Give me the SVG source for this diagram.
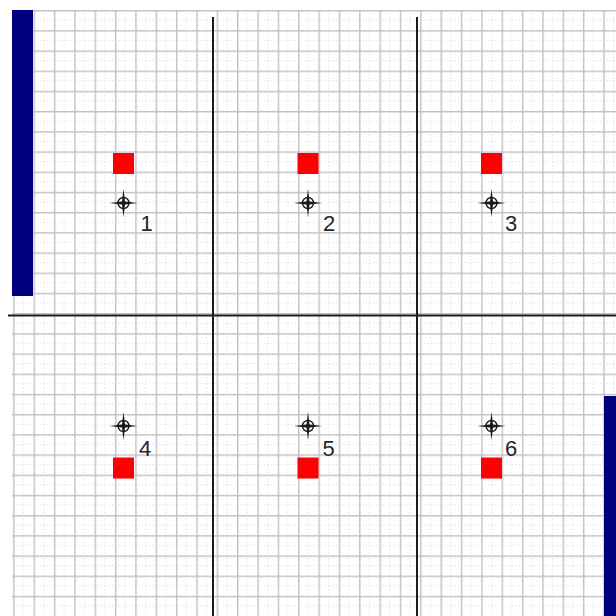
<svg xmlns="http://www.w3.org/2000/svg" width="616" height="616" viewBox="0 0 616 616">
  <style>
    .bar { fill: #00007f; }
    .red { fill: #ff0000; }
    .wall { stroke: #1c1c1c; stroke-width: 2; fill: none; }
    .lbl { font-family: "Liberation Sans", Arial, sans-serif; font-size: 22px; fill: #262626; }
    .ring { fill: none; stroke: #1a1a1a; stroke-width: 1.4; }
    .arm { fill: #1a1a1a; }
  </style>
  <defs>
    <pattern id="grid" patternUnits="userSpaceOnUse" x="13.15" y="10" width="20.35" height="20.2">
      <line x1="10.17" y1="0" x2="10.17" y2="20.2" stroke="#d6d6d6" stroke-width="1" stroke-dasharray="1 2.5"/>
      <line x1="0" y1="10.1" x2="20.35" y2="10.1" stroke="#d6d6d6" stroke-width="1" stroke-dasharray="1 2.5"/>
      <line x1="0.7" y1="0" x2="0.7" y2="20.2" stroke="#c2c2c2" stroke-width="1.5"/>
      <line x1="0" y1="0.7" x2="20.35" y2="0.7" stroke="#c2c2c2" stroke-width="1.5"/>
    </pattern>
    <g id="cross">
      <polygon class="arm" points="-14,0 0,-1.7 14,0 0,1.7"/>
      <polygon class="arm" points="0,-14 1.7,0 0,14 -1.7,0"/>
      <circle class="ring" r="5.5"/>
    </g>
  </defs>
  <rect width="616" height="616" fill="#ffffff"/>
  <rect id="grid-area" x="12" y="10" width="604" height="606" fill="url(#grid)"/>

  <g id="bars">
    <rect class="bar" x="12" y="10" width="21" height="286"/>
    <rect class="bar" x="604" y="396" width="12" height="220"/>
  </g>

  <g id="connectors">
    <line class="wall" x1="213" y1="17" x2="213" y2="616"/>
    <line class="wall" x1="417" y1="17" x2="417" y2="616"/>
    <line class="wall" x1="8" y1="315.5" x2="616" y2="315.5" stroke-width="2.5"/>
  </g>

  <g id="node1">
    <rect class="red" x="113" y="153" width="21" height="21"/>
    <use href="#cross" x="123.5" y="203"/>
    <text class="lbl" x="140.5" y="231">1</text>
  </g>
  <g id="node2">
    <rect class="red" x="297.5" y="153" width="21" height="21"/>
    <use href="#cross" x="308" y="203"/>
    <text class="lbl" x="323" y="231">2</text>
  </g>
  <g id="node3">
    <rect class="red" x="481" y="153" width="21" height="21"/>
    <use href="#cross" x="491.5" y="203"/>
    <text class="lbl" x="505" y="231">3</text>
  </g>
  <g id="node4">
    <use href="#cross" x="123.5" y="426"/>
    <text class="lbl" x="139" y="456">4</text>
    <rect class="red" x="113" y="457.5" width="21" height="21"/>
  </g>
  <g id="node5">
    <use href="#cross" x="308" y="426"/>
    <text class="lbl" x="322.5" y="456">5</text>
    <rect class="red" x="297.5" y="457.5" width="21" height="21"/>
  </g>
  <g id="node6">
    <use href="#cross" x="491.5" y="426"/>
    <text class="lbl" x="505" y="456">6</text>
    <rect class="red" x="481" y="457.5" width="21" height="21"/>
  </g>
</svg>
